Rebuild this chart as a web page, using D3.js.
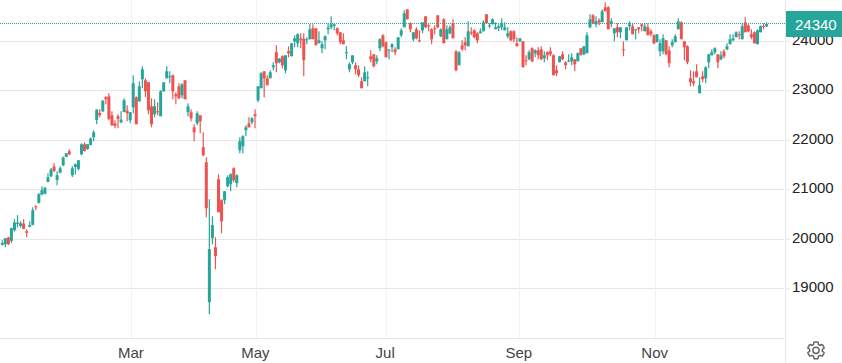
<!DOCTYPE html>
<html>
<head>
<meta charset="utf-8">
<script src="https://cdnjs.cloudflare.com/ajax/libs/d3/7.8.5/d3.min.js"></script>
<style>
  html, body { margin: 0; padding: 0; background: #fff; }
  svg { display: block; }
  text { font-family: "Liberation Sans", Arial, sans-serif; }
</style>
</head>
<body>
<div id="chart"></div>
<script>
// daily candles
const opens = [19878,19891,20026,19958,20174,20302,20261,20308,20153,20241,20281,20658,20726,20894,20907,21150,21264,21459,21190,21338,21486,21654,21769,21284,21452,21412,21708,21910,21816,21897,22051,22401,22543,22576,22859,22879,22496,22334,22475,22354,22563,22590,22395,22657,22859,22778,23222,23202,23162,22677,22516,22576,22475,22980,23243,23270,23303,22920,23081,22899,23202,22556,22556,22253,22334,22496,21849,21547,18720,20012,19830,21203,20779,20779,21062,21102,21425,21123,21789,21870,22193,22334,22354,22516,22798,23041,23384,23243,23243,23465,23768,23566,23687,23405,23788,23687,23990,23950,24044,24044,24010,24031,24253,24253,23950,23849,24010,24232,24273,24300,24253,24172,24010,23755,23425,23566,23506,23425,23183,23183,23243,23687,23728,23586,23849,24111,23970,23809,23869,23829,23829,24111,24273,24636,24354,24031,24233,24010,24212,24495,24313,24233,24253,24515,24091,24434,24031,24152,24354,23788,23506,23909,23970,23889,24172,24212,24152,24152,24192,24535,24300,24333,24233,24259,24273,24212,24091,24192,24192,23950,23990,23990,23607,23627,23849,23748,23808,23829,23647,23768,23788,23708,23405,23566,23728,23566,23586,23586,23627,23586,23849,23728,23748,24273,24515,24333,24414,24374,24677,24677,24354,24152,24273,24172,23829,24010,24293,24293,24212,24273,24333,24192,24273,24192,24111,23970,23788,23788,24010,23808,23909,23970,24232,24374,23990,23889,23243,23183,23384,22940,23284,23243,23566,23707,23768,23728,23627,23788,23829,23930,24010,24071,24132,24031,24374,24313,24132,24172,23930,24172,24300,24293];
const highs = [19972,20012,20039,20228,20396,20477,20355,20396,20187,20355,20638,20678,20921,21062,21042,21325,21432,21526,21365,21466,21661,21728,21809,21466,21520,21587,21930,21950,21910,22045,22193,22617,22617,22798,22879,22940,22576,22395,22516,22576,22839,22697,22563,23303,22879,23182,23485,23243,23162,22839,22819,22758,23000,23162,23485,23384,23323,22960,23142,23142,23202,22738,22617,22314,22576,22496,22152,21648,20800,20456,20032,21304,20800,20961,21284,21325,21446,21304,22051,22092,22294,22455,22455,22617,23081,23364,23384,23304,23405,23566,23909,23647,23707,23707,23889,23950,24111,24152,24152,24152,24071,24333,24333,24253,24192,23990,24111,24354,24495,24354,24273,24172,24152,23889,23566,23707,23566,23506,23263,23485,23384,23808,23728,23707,24051,24132,23990,23829,23950,23869,24071,24253,24616,24636,24374,24172,24273,24212,24374,24495,24333,24253,24313,24515,24253,24455,24313,24313,24434,23809,23788,24010,24071,24394,24273,24233,24172,24253,24414,24535,24354,24455,24374,24333,24455,24374,24273,24212,24212,24071,24051,23990,23708,23808,23869,23829,23869,23889,23788,23788,23869,23728,23506,23687,23788,23586,23728,23748,23627,23768,23849,23889,24172,24535,24535,24495,24455,24636,24778,24697,24455,24253,24354,24273,23990,24273,24394,24354,24233,24273,24333,24354,24354,24233,24132,24132,24031,24132,24010,23889,24031,24132,24455,24394,23990,23909,23405,23384,23526,23263,23384,23485,23728,23829,23869,23728,23788,23829,23950,24132,24132,24192,24192,24354,24475,24333,24232,24192,24232,24313,24354,24374];
const lows = [19864,19830,19871,19911,20147,20228,20221,20194,20032,20234,20275,20578,20712,20880,20901,21143,21244,21345,21082,21318,21466,21648,21688,21250,21304,21385,21688,21762,21796,21890,21971,22314,22455,22563,22718,22395,22280,22233,22233,22334,22556,22374,22334,22536,22314,22771,23041,22859,22516,22253,22455,22496,22475,22973,23243,23142,22819,22718,22819,22839,22819,22475,22374,21971,22294,22132,21668,20436,18478,19891,19386,20537,20113,20699,21042,20961,21143,21042,21728,21728,22072,22247,22314,22233,22758,23041,22860,23102,23243,23405,23364,23546,23445,23344,23667,23687,23869,23869,23849,23284,23930,24031,24031,23909,23950,23748,23829,24132,24232,24212,24111,23930,23930,23627,23364,23526,23324,23263,23041,23183,23082,23566,23465,23526,23788,23869,23667,23627,23768,23708,23829,24071,24273,24434,24172,23990,24031,23970,24152,24253,24192,23930,24132,24253,24071,23950,24031,24132,24051,23385,23506,23788,23808,23889,24111,24051,23950,24152,24192,24354,24253,24333,24233,24192,24212,24212,24051,23990,23970,23889,23970,23465,23506,23607,23566,23667,23627,23607,23566,23607,23687,23304,23284,23566,23607,23425,23566,23506,23385,23586,23708,23708,23748,24253,24333,24273,24313,24374,24596,24233,24273,23990,24071,24051,23687,24010,24212,24132,24031,24152,24192,24192,24111,24091,23930,23970,23687,23728,23707,23465,23869,23970,24232,24031,23607,23526,23082,23082,23263,22940,23162,23142,23445,23707,23728,23445,23607,23647,23809,23930,23990,24071,24031,24031,24172,24172,24031,23950,23930,24172,24232,24273];
const closes = [19918,20012,19891,20214,20328,20328,20315,20201,20120,20275,20578,20645,20901,20981,21035,21244,21399,21372,21284,21425,21641,21728,21708,21425,21506,21587,21910,21775,21910,22024,22152,22610,22496,22792,22819,22422,22294,22280,22422,22408,22798,22536,22556,23142,22314,23081,23424,22980,22596,22314,22677,22563,22980,23162,23384,23283,22980,22879,22839,23121,22819,22677,22435,22152,22536,22374,21688,20618,19790,20275,19649,20537,20355,20961,21244,21304,21183,21284,21971,22072,22253,22253,22435,22475,23081,23344,23243,23102,23364,23506,23546,23640,23506,23707,23748,23950,24051,24132,24010,23607,24031,24232,24031,23909,24010,23930,24091,24266,24333,24333,24152,23970,23930,23768,23526,23707,23425,23304,23041,23364,23263,23627,23485,23647,24031,23889,23667,23822,23930,23768,24071,24212,24556,24434,24233,24172,24051,23990,24374,24273,24300,24031,24239,24273,24233,23950,24233,24273,24051,23405,23768,23829,23909,24192,24152,24071,24010,24192,24374,24354,24313,24434,24273,24293,24354,24273,24152,24010,24031,23889,24051,23465,23593,23768,23586,23808,23708,23627,23708,23708,23728,23304,23344,23687,23627,23506,23600,23667,23526,23748,23708,23889,24111,24434,24354,24394,24374,24596,24596,24233,24394,24253,24172,24273,23809,24273,24333,24132,24233,24233,24293,24293,24111,24132,23950,24132,23950,24051,23728,23546,23970,24091,24394,24031,23869,23566,23162,23142,23263,23102,23223,23465,23728,23768,23849,23566,23707,23687,23889,24031,24051,24172,24111,24293,24172,24192,24071,23950,24212,24293,24286,24340];

const monthLabels = ["Mar", "May", "Jul", "Sep", "Nov"];
const monthTicks = [42.4, 83.3, 125.9, 169.8, 214.4];
const priceTicks = [18000, 19000, 20000, 21000, 22000, 23000, 24000];
const lastPrice = 24340;

const width = 842, height = 363;
const plotRight = 785, plotBottom = 338;
const up = "#26a69a", down = "#ef5350", grid = "#e6e6e6";

const svg = d3.select("#chart").append("svg")
    .attr("width", width)
    .attr("height", height);

const x = d3.scaleLinear().domain([0, opens.length - 1]).range([2.3, 766.6]);
const y = d3.scaleLinear().domain([18000, 24000]).range([337.8, 40.8]);

// grid
svg.append("g").selectAll("line")
    .data(priceTicks)
    .enter().append("line")
    .attr("x1", 0).attr("x2", plotRight - 1)
    .attr("y1", d => Math.round(y(d)) + 0.5)
    .attr("y2", d => Math.round(y(d)) + 0.5)
    .attr("stroke", grid);

svg.append("g").selectAll("line")
    .data(monthTicks)
    .enter().append("line")
    .attr("x1", d => Math.round(x(d)) + 0.5)
    .attr("x2", d => Math.round(x(d)) + 0.5)
    .attr("y1", 0).attr("y2", plotBottom)
    .attr("stroke", "#f0f3f6");

// candles
const candles = svg.append("g").selectAll("g")
    .data(opens)
    .enter().append("g");

candles.append("line")
    .attr("x1", (d, i) => x(i))
    .attr("x2", (d, i) => x(i))
    .attr("y1", (d, i) => y(highs[i]))
    .attr("y2", (d, i) => y(lows[i]))
    .attr("stroke", (d, i) => closes[i] >= d ? up : down)
    .attr("stroke-width", 1.2);

candles.append("rect")
    .attr("x", (d, i) => x(i) - 1.5)
    .attr("width", 3)
    .attr("y", (d, i) => y(Math.max(d, closes[i])))
    .attr("height", (d, i) => Math.max(1, Math.abs(y(d) - y(closes[i]))))
    .attr("fill", (d, i) => closes[i] >= d ? up : down);

// last price line
svg.append("line")
    .attr("x1", 0).attr("x2", plotRight)
    .attr("y1", Math.floor(y(lastPrice)) + 0.5)
    .attr("y2", Math.floor(y(lastPrice)) + 0.5)
    .attr("stroke", up)
    .attr("stroke-dasharray", "1 1");

// axes
const yAxis = d3.axisRight(y)
    .tickValues(priceTicks.filter(d => d > 18000))
    .tickSize(5)
    .tickPadding(2)
    .tickFormat(d3.format("d"));

const gy = svg.append("g")
    .attr("transform", "translate(" + plotRight + ",0)")
    .call(yAxis);
gy.select(".domain").attr("stroke", grid).attr("d", "M0.5,0V" + height);
gy.selectAll(".tick line").attr("stroke", grid);
gy.selectAll("text").attr("fill", "#222").attr("dy", "0.24em").style("font-size", "15px");

const xAxis = d3.axisBottom(x)
    .tickValues(monthTicks)
    .tickSize(0)
    .tickPadding(9)
    .tickFormat((d, i) => monthLabels[i]);

const gx = svg.append("g")
    .attr("transform", "translate(0," + plotBottom + ")")
    .call(xAxis);
gx.select(".domain").remove();
gx.selectAll("text").attr("fill", "#444").attr("dx", "-1").style("font-size", "15px");

// last price tag
svg.append("rect")
    .attr("x", plotRight + 1).attr("y", 11)
    .attr("width", width - plotRight - 1).attr("height", 26)
    .attr("fill", up);
svg.append("text")
    .attr("x", 795).attr("y", 30)
    .attr("fill", "#fff")
    .style("font-size", "15px")
    .text(lastPrice);

// settings icon
svg.append("path")
    .attr("transform", "translate(805.5,339.8) scale(0.875)")
    .attr("fill", "none")
    .attr("stroke", "#666")
    .attr("stroke-width", 1.7)
    .attr("d", "M19.14 12.94c.04-.3.06-.61.06-.94 0-.32-.02-.64-.07-.94l2.03-1.58c.18-.14.23-.41.12-.61l-1.92-3.32c-.12-.22-.37-.29-.59-.22l-2.39.96c-.5-.38-1.03-.7-1.62-.94l-.36-2.54c-.04-.24-.24-.41-.48-.41h-3.84c-.24 0-.43.17-.47.41l-.36 2.54c-.59.24-1.13.57-1.62.94l-2.39-.96c-.22-.08-.47 0-.59.22L2.74 8.87c-.12.21-.08.47.12.61l2.03 1.58c-.05.3-.09.63-.09.94s.02.64.07.94l-2.03 1.58c-.18.14-.23.41-.12.61l1.92 3.32c.12.22.37.29.59.22l2.39-.96c.5.38 1.03.7 1.62.94l.36 2.54c.05.24.24.41.48.41h3.84c.24 0 .44-.17.47-.41l.36-2.54c.59-.24 1.13-.56 1.62-.94l2.39.96c.22.08.47 0 .59-.22l1.92-3.32c.12-.22.07-.47-.12-.61l-2.01-1.58zM12 15.6c-1.98 0-3.6-1.62-3.6-3.6s1.62-3.6 3.6-3.6 3.6 1.62 3.6 3.6-1.62 3.6-3.6 3.6z");
</script>
</body>
</html>
